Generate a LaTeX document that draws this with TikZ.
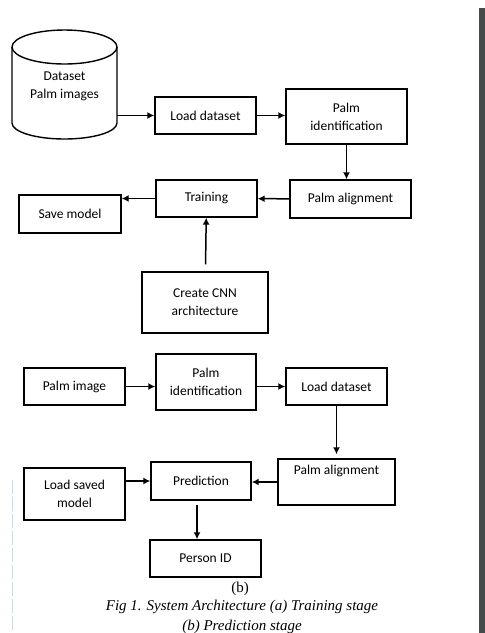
\documentclass[tikz,border=0pt]{standalone}
\usepackage{fontspec}
\setmainfont{Carlito}
\newfontfamily\capfont{Liberation Serif}
\usetikzlibrary{arrows.meta}

\definecolor{pagebar}{HTML}{454A4A}
\definecolor{marginline}{HTML}{C9DCE6}

\begin{document}
\begin{tikzpicture}[
x=1pt, y=-1pt,
every node/.style={
align=center,
font=\fontsize{13.5}{18}\selectfont,
inner sep=1pt
},
box/.style={
draw,
line width=1.4pt,
minimum width=101pt,
minimum height=37pt
},
flow/.style={
-{Latex[length=7pt,width=7pt]},
line width=1.5pt
},
caption/.style={
font=\capfont\fontsize{15}{18}\selectfont
}
]
\useasboundingbox (0,0) rectangle (485,633);

% training stage
\node[minimum width=105pt, minimum height=106pt] (data) at (64.5,86)
{Dataset\\Palm images};
\draw[line width=1.4pt] (12,47) -- (12,123)
arc[start angle=180, end angle=360, x radius=52.5pt, y radius=16pt] -- (117,47);
\draw[line width=1.4pt] (64.5,47) ellipse[x radius=52.5pt, y radius=17pt];

\node[box] (load) at (205.5,115.5)
{Load dataset};

\node[box, minimum width=121pt, minimum height=55pt] (ident) at (346.5,116.5)
{Palm\\identification};

\node[box, minimum width=121pt, minimum height=38pt] (align) at (350.5,199)
{Palm alignment};

\node[box] (train) at (206.5,198.5)
{Training};

\node[box, minimum width=102pt, minimum height=38pt] (save) at (70,214)
{Save model};

\node[box, minimum width=126pt, minimum height=61pt] (cnn) at (205,302.5)
{Create CNN\\architecture};

\draw[flow] (data.east |- load) -- (load);
\draw[flow] (load) -- (load -| ident.west);
\draw[flow] (ident) -- (ident |- align.north);
\draw[flow] (align) -- (train);
\draw[flow] (train) -- (train -| save.east);
\draw[flow, shorten <=7pt] (cnn) -- (train);

% prediction stage
\node[box] (pimg) at (74.5,386.5)
{Palm image};

\node[box, minimum width=100pt, minimum height=56pt] (ident2) at (206,382)
{Palm\\identification};

\node[box] (load2) at (336.5,386.5)
{Load dataset};

\node[box, minimum width=117pt, minimum height=46pt] (align2) at (336.5,482)
{Palm alignment\\[6pt]};

\node[box, minimum width=100pt, minimum height=38pt] (pred) at (201,481)
{Prediction};

\node[box, minimum height=52pt] (loadm) at (74.5,494)
{Load saved\\model};

\node[box, minimum width=111pt] (pid) at (205.5,558.5)
{Person ID};

\draw[flow] (pimg) -- (pimg -| ident2.west);
\draw[flow] (ident2.east |- load2) -- (load2);
\draw[flow, shorten >=4pt] (load2) -- (load2 |- align2.north);
\draw[flow] (align2) -- (align2 -| pred.east);
\draw[flow] (loadm.east |- pred) -- (pred);
\draw[flow, shorten <=4pt] ([xshift=-4pt]pred.south) -- ([xshift=-4pt]pred.south |- pid.north);

% caption
\node[caption] (sub) at (240,589) {(b)};
\node[caption] (cap1) at (242,607) {\itshape Fig 1. System Architecture (a) Training stage};
\node[caption] (cap2) at (242,627) {\itshape (b) Prediction stage};

% page edges
\fill[pagebar] (479,8) rectangle (485,633);
\draw[marginline, line width=0.8pt, dash pattern=on 14pt off 3pt] (12,480) -- (12,633);

\end{tikzpicture}
\end{document}
